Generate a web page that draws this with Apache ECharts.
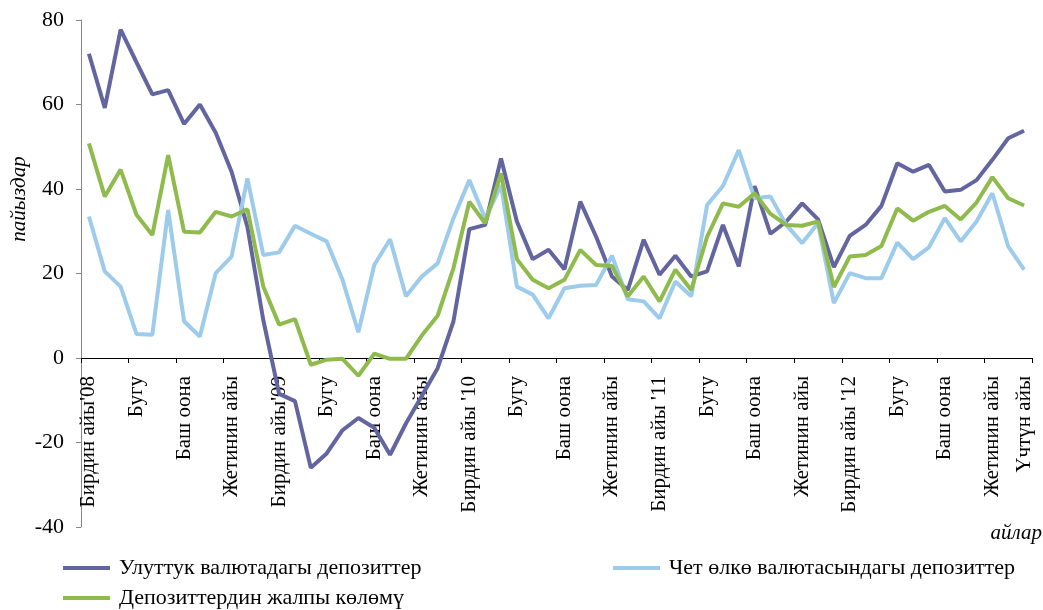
<!DOCTYPE html>
<html>
<head>
<meta charset="utf-8">
<script src="https://cdn.jsdelivr.net/npm/echarts@6/dist/echarts.min.js"></script>
<style>
html,body{margin:0;padding:0;background:#fff;}
#chart{width:1043px;height:610px;}
</style>
</head>
<body>
<div id="chart"></div>
<script>
// Month names (Feb 2008 .. Jan 2013), year tags for February labels
const monthNames = ['Бирдин айы','Жалган куран','Чын куран','Бугу','Кулжа','Теке','Баш оона','Аяк оона','Тогуздун айы','Жетинин айы','Бештин айы','Үчтүн айы'];
const yearTags = ["'08", "'09", " '10", " '11", " '12"];

const seriesNames = ['Улуттук валютадагы депозиттер', 'Чет өлкө валютасындагы депозиттер', 'Депозиттердин жалпы көлөмү'];

const nationalDeposits = [72.0,59.2,77.7,70.0,62.4,63.4,55.4,60.0,53.3,44.1,31.0,9.0,
  -8.5,-10.2,-26.0,-22.6,-17.1,-14.2,-16.5,-22.9,-15.5,-9.0,-2.4,8.7,
  30.5,31.5,47.2,32.3,23.4,25.6,21.0,37.0,28.7,19.3,16.1,28.0,
  19.7,24.2,19.3,20.5,31.5,21.7,40.7,29.4,32.3,36.6,32.8,21.5,
  28.9,31.5,36.0,46.1,44.1,45.7,39.4,39.8,42.1,46.9,52.0,53.8];

const foreignDeposits = [33.5,20.5,16.9,5.7,5.5,35.0,8.7,5.1,20.1,24.0,42.5,24.4,
  25.0,31.3,29.4,27.6,18.5,6.1,22.0,28.1,14.6,19.3,22.4,33.1,
  42.1,33.0,40.9,16.9,15.0,9.4,16.5,17.1,17.3,24.2,13.9,13.4,
  9.4,18.1,14.6,36.2,40.7,49.2,37.8,38.2,31.5,27.2,31.9,13.0,
  20.1,18.9,18.9,27.3,23.4,26.2,33.1,27.6,32.3,39.0,26.4,20.9];

const totalDeposits = [50.8,38.2,44.6,33.9,29.1,48.0,29.9,29.7,34.6,33.5,35.2,16.9,
  7.9,9.2,-1.6,-0.4,-0.2,-4.2,1.0,-0.2,-0.2,5.3,10.0,21.3,
  37.0,31.9,43.7,23.4,18.5,16.5,18.5,25.6,22.0,21.8,14.6,19.3,
  13.4,20.9,16.1,28.7,36.6,35.8,39.0,34.1,31.5,31.3,32.3,16.8,
  24.0,24.4,26.5,35.4,32.5,34.6,36.0,32.8,36.8,42.8,37.8,36.1];

const colors = ['#62659f', '#9dcbec', '#8fbb4c'];

const categories = [];
for (let y = 0; y < yearTags.length; y++) {
  for (let m = 0; m < 12; m++) {
    categories.push(m === 0 ? monthNames[m] + yearTags[y] : monthNames[m]);
  }
}
const lastIdx = categories.length - 1;

const FONT = '"Liberation Serif", "Times New Roman", serif';

const Y_MIN = -40, Y_MAX = 80;
const GRID_TOP = 20, GRID_BOTTOM = 83, H = 610;
const plotH = H - GRID_TOP - GRID_BOTTOM;
// move the category axis (line + labels) up to the zero value line
const zeroOffset = -plotH * (0 - Y_MIN) / (Y_MAX - Y_MIN);

const chart = echarts.init(document.getElementById('chart'));
const legendBase = {
  orient: 'horizontal',
  icon: 'rect',
  padding: 0,
  itemWidth: 47,
  itemHeight: 4,
  itemGap: 10,
  textStyle: { fontFamily: FONT, fontSize: 22, color: '#000', padding: [0, 0, 0, 4] },
  selectedMode: false
};
chart.setOption({
  animation: false,
  backgroundColor: '#fff',
  color: colors,
  grid: { left: 81, right: 11, top: GRID_TOP, bottom: GRID_BOTTOM, containLabel: false, outerBoundsMode: 'none' },
  legend: [
    Object.assign({}, legendBase, { data: [seriesNames[0]], left: 63, top: 557 }),
    Object.assign({}, legendBase, { data: [seriesNames[1]], left: 613, top: 557 }),
    Object.assign({}, legendBase, { data: [seriesNames[2]], left: 63, top: 587 })
  ],
  xAxis: {
    type: 'category',
    data: categories,
    boundaryGap: true,
    offset: zeroOffset,
    axisLine: { onZero: false, lineStyle: { color: '#000', width: 1 } },
    axisTick: { show: true, length: 5, inside: false, interval: function (i) { return i % 3 === 0; }, lineStyle: { color: '#000' } },
    axisLabel: {
      interval: function (i) { return i % 3 === 0 || i === lastIdx; },
      rotate: 90,
      margin: 18,
      fontFamily: FONT,
      fontSize: 21,
      color: '#000'
    },
    splitLine: { show: false }
  },
  yAxis: {
    type: 'value',
    min: Y_MIN,
    max: Y_MAX,
    interval: 20,
    axisLine: { show: true, lineStyle: { color: '#868686', width: 1 } },
    axisTick: { show: true, length: 5, lineStyle: { color: '#868686' } },
    axisLabel: { fontFamily: FONT, fontSize: 22, color: '#000', margin: 17 },
    splitLine: { show: false }
  },
  graphic: [
    {
      type: 'text', x: 19, y: 199, rotation: Math.PI / 2,
      style: { text: 'пайыздар', font: 'italic 21px ' + FONT, fill: '#000', textAlign: 'center', textVerticalAlign: 'middle' }
    },
    {
      type: 'text', x: 1042, y: 533,
      style: { text: 'айлар', font: 'italic 21px ' + FONT, fill: '#000', textAlign: 'right', textVerticalAlign: 'middle' }
    }
  ],
  series: [
    { name: seriesNames[0], type: 'line', data: nationalDeposits, symbol: 'none', lineStyle: { width: 4, color: colors[0] }, itemStyle: { color: colors[0] } },
    { name: seriesNames[1], type: 'line', data: foreignDeposits, symbol: 'none', lineStyle: { width: 4, color: colors[1] }, itemStyle: { color: colors[1] } },
    { name: seriesNames[2], type: 'line', data: totalDeposits, symbol: 'none', lineStyle: { width: 4, color: colors[2] }, itemStyle: { color: colors[2] } }
  ]
});
</script>
</body>
</html>
